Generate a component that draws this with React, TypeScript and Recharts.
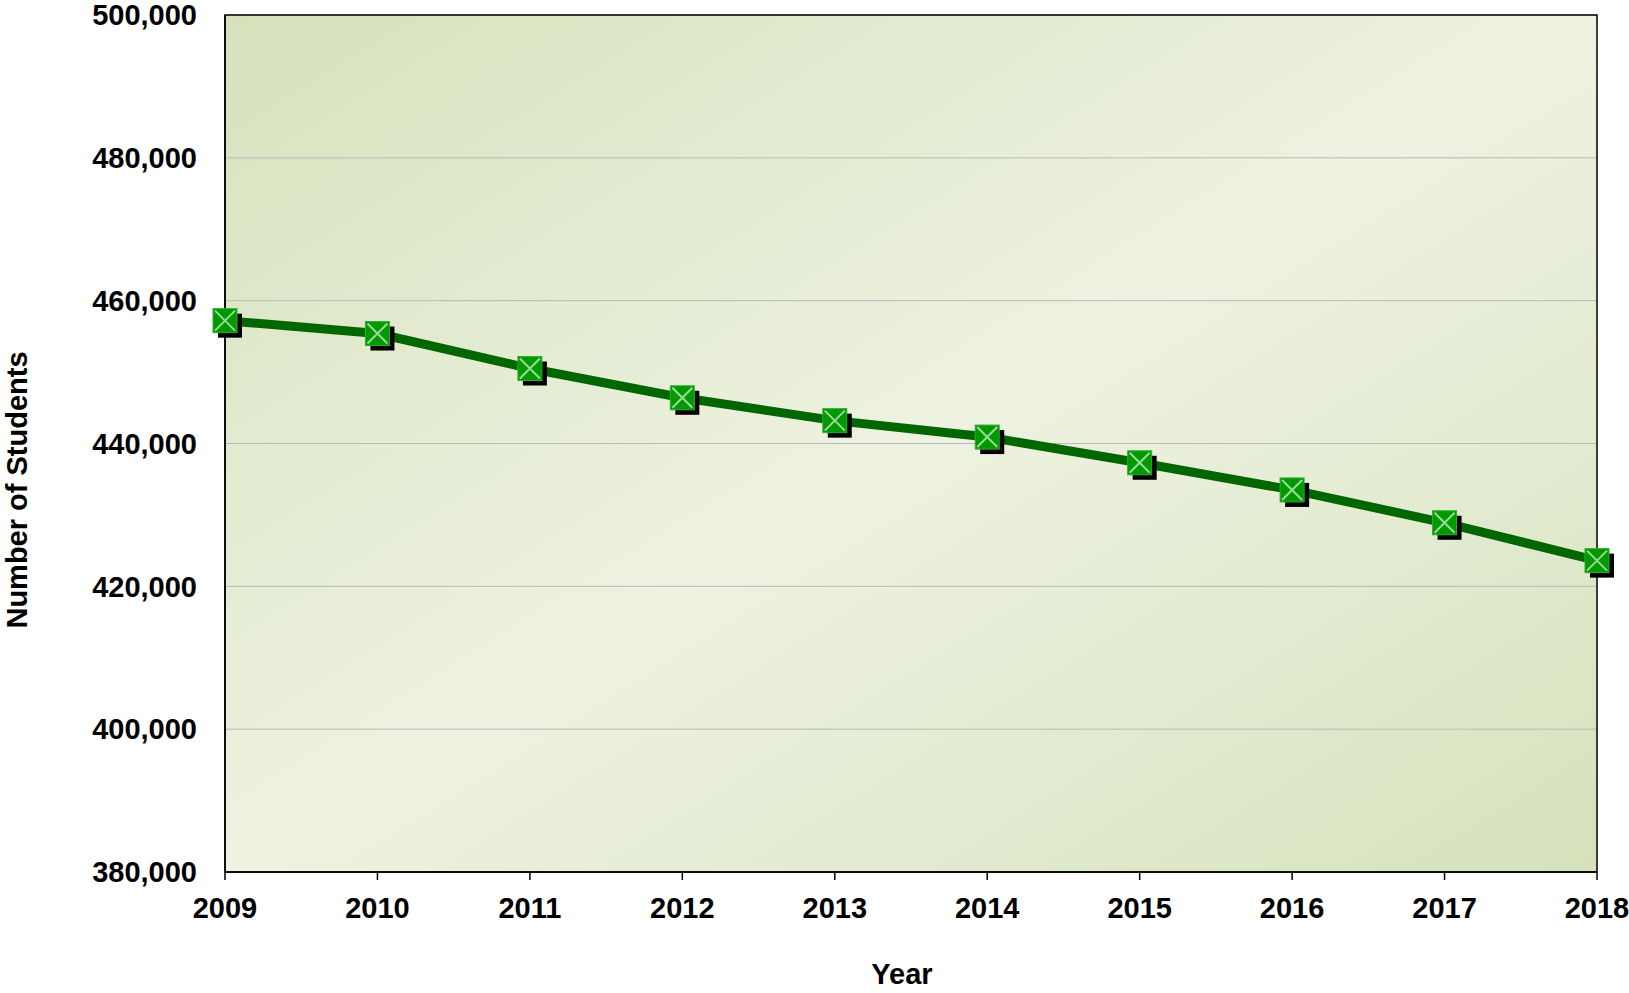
import { LineChart, Line, XAxis, YAxis, CartesianGrid, ReferenceArea } from 'recharts'

const years = [2009, 2010, 2011, 2012, 2013, 2014, 2015, 2016, 2017, 2018]
const students = [457200, 455400, 450500, 446400, 443200, 440900, 437300, 433500, 428900, 423600]
const yTicks = [380000, 400000, 420000, 440000, 460000, 480000, 500000]

const data = years.map((year, i) => ({ year, students: students[i] }))

const FONT = '"Liberation Sans", Arial, sans-serif'

const fmt = (v: number) => v.toLocaleString('en-US')

function XDot(props: any) {
  const { cx, cy } = props
  if (cx == null || cy == null) return null
  const s = 12
  return (
    <g>
      <rect x={cx - s + 5} y={cy - s + 5} width={s * 2} height={s * 2} fill="#000" />
      <rect x={cx - s} y={cy - s} width={s * 2} height={s * 2} fill="#009a00" stroke="#2faf2f" strokeWidth={1} />
      <line x1={cx - s + 2} y1={cy - s + 2} x2={cx + s - 2} y2={cy + s - 2} stroke="#9bd89b" strokeWidth={2} />
      <line x1={cx + s - 2} y1={cy - s + 2} x2={cx - s + 2} y2={cy + s - 2} stroke="#9bd89b" strokeWidth={2} />
    </g>
  )
}

export default function App() {
  return (
    <div style={{ position: 'absolute', left: 0, top: 0, background: '#fff' }}>
      <svg width={0} height={0} style={{ position: 'absolute' }}>
        <defs>
          <linearGradient id="plotBg" x1="0" y1="0" x2="1" y2="1">
            <stop offset="0%" stopColor="#d5e2bc" />
            <stop offset="50%" stopColor="#eef2e1" />
            <stop offset="100%" stopColor="#d5e2bc" />
          </linearGradient>
        </defs>
      </svg>
      <LineChart
        width={1629}
        height={993}
        data={data}
        margin={{ top: 15, right: 32, bottom: 61, left: 0 }}
      >
        <CartesianGrid vertical={false} stroke="#b9b9b9" strokeWidth={1} fill="url(#plotBg)" />
        <XAxis
          dataKey="year"
          type="number"
          domain={[2009, 2018]}
          ticks={years}
          height={60}
          axisLine={{ stroke: '#000', strokeWidth: 1.5 }}
          tickLine={{ stroke: '#000', strokeWidth: 1.5 }}
          tickSize={8}
          tickMargin={17}
          tick={{ fill: '#000', fontSize: 29, fontWeight: 700, fontFamily: FONT }}
          label={{
            content: () => (
              <text x={902} y={984} textAnchor="middle" fill="#000" fontSize={29} fontWeight={700} fontFamily={FONT}>
                Year
              </text>
            ),
          }}
        />
        <YAxis
          type="number"
          domain={[380000, 500000]}
          ticks={yTicks}
          width={225}
          interval={0}
          axisLine={{ stroke: '#000', strokeWidth: 1.5 }}
          tickLine={false}
          tickSize={0}
          tickMargin={28}
          tickFormatter={fmt}
          tick={{ fill: '#000', fontSize: 29, fontWeight: 700, fontFamily: FONT }}
          label={{
            content: () => (
              <text
                x={27}
                y={490}
                transform="rotate(-90 27 490)"
                textAnchor="middle"
                fill="#000"
                fontSize={29}
                fontWeight={700}
                fontFamily={FONT}
              >
                Number of Students
              </text>
            ),
          }}
        />
        <ReferenceArea
          x1={2009}
          x2={2018}
          y1={380000}
          y2={500000}
          fill="none"
          fillOpacity={0}
          stroke="#000"
          strokeWidth={1.5}
          ifOverflow="visible"
        />
        <Line
          type="linear"
          dataKey="students"
          stroke="#006600"
          strokeWidth={9}
          dot={<XDot />}
          activeDot={false}
          isAnimationActive={false}
        />
      </LineChart>
    </div>
  )
}
